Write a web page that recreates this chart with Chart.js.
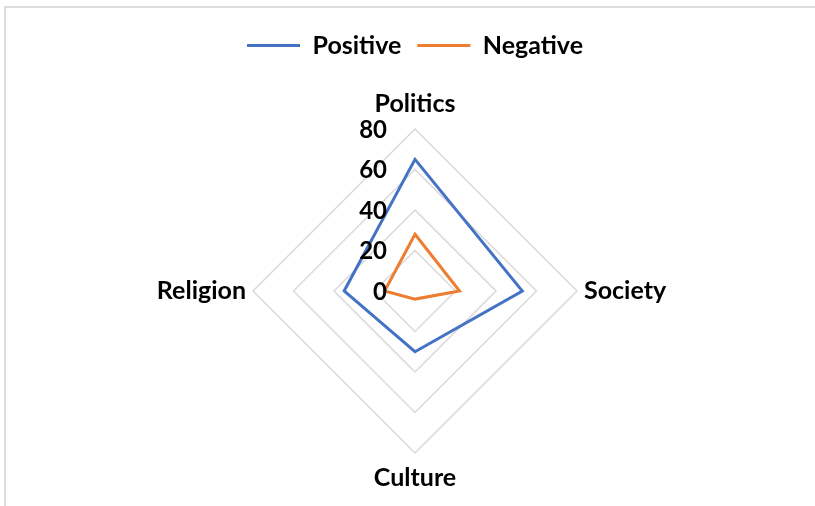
<!DOCTYPE html>
<html>
<head>
<meta charset="utf-8">
<script src="https://cdn.jsdelivr.net/npm/chart.js@4.4.0/dist/chart.umd.min.js"></script>
<style>
  html, body { margin: 0; padding: 0; background: #fff; }
  #wrap { position: relative; width: 815px; height: 506px; overflow: hidden; }
  #frame { position: absolute; left: 4px; top: 6px; width: 900px; height: 600px;
           border-left: 2px solid #dcdcdc; border-top: 2px solid #dcdcdc; pointer-events: none; }
  canvas { position: absolute; left: 0; top: 0; }
</style>
</head>
<body>
<div id="wrap">
  <canvas id="c" width="815" height="506"></canvas>
  <div id="frame"></div>
</div>
<script>
const categories = ['Politics', 'Society', 'Culture', 'Religion'];
const positiveValues = [65, 53, 30, 35];
const negativeValues = [28, 22, 4, 15];
const tickValues = [0, 20, 40, 60, 80];

const FONT = 'Lato';

const labelPlugin = {
  id: 'customLabels',
  afterDatasetsDraw(chart) {
    const s = chart.scales.r;
    const ctx = chart.ctx;
    ctx.save();
    ctx.fillStyle = '#000';
    ctx.font = 'bold 25px ' + FONT;
    ctx.textBaseline = 'middle';
    categories.forEach((c, i) => {
      const ang = s.getIndexAngle(i);
      const sn = Math.sin(ang), cs = Math.cos(ang);
      const vertical = Math.abs(cs) > 0.5;
      const off = vertical ? 25 : 7;
      const p = s.getPointPosition(i, s.drawingArea + off);
      ctx.textAlign = vertical ? 'center' : (sn > 0 ? 'left' : 'right');
      ctx.fillText(c, p.x, p.y);
    });
    ctx.font = 'bold 24px ' + FONT;
    ctx.textAlign = 'right';
    tickValues.forEach(v => {
      const d = s.getDistanceFromCenterForValue(v);
      ctx.fillText(String(v), s.xCenter - 28, s.yCenter - d + 1);
    });
    ctx.restore();
  }
};

new Chart(document.getElementById('c'), {
  type: 'radar',
  data: {
    labels: categories,
    datasets: [
      { label: 'Positive', data: positiveValues, borderColor: '#4472C4', backgroundColor: '#4472C4',
        borderWidth: 3, pointRadius: 0, fill: false },
      { label: 'Negative', data: negativeValues, borderColor: '#ED7D31', backgroundColor: '#ED7D31',
        borderWidth: 3, pointRadius: 0, fill: false }
    ]
  },
  options: {
    responsive: false,
    animation: false,
    layout: { padding: { top: 17, left: 15, right: 0, bottom: 53 } },
    plugins: {
      legend: {
        position: 'top',
        labels: {
          usePointStyle: true, pointStyle: 'line', pointStyleWidth: 53,
          padding: 16, color: '#000',
          font: { family: FONT, size: 25, weight: 'bold' }
        }
      },
      title: { display: true, text: '', weight: 100, padding: { top: 0, bottom: 51 },
               font: { size: 10, lineHeight: 1 } },
      tooltip: { enabled: false }
    },
    scales: {
      r: {
        min: 0, max: 80,
        ticks: { stepSize: 20, display: false },
        pointLabels: { display: false },
        angleLines: { display: false },
        grid: { color: '#d9d9d9', lineWidth: 1.5 }
      }
    }
  },
  plugins: [labelPlugin]
});
</script>
</body>
</html>
